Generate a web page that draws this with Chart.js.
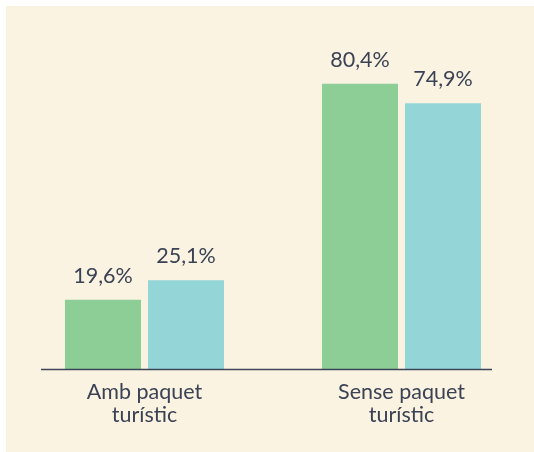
<!DOCTYPE html>
<html>
<head>
<meta charset="utf-8">
<script src="https://cdn.jsdelivr.net/npm/chart.js@4/dist/chart.umd.min.js"></script>
<style>
  html, body { margin: 0; padding: 0; background: #ffffff; }
  #wrap { position: absolute; left: 6px; top: 6px; width: 528px; height: 446px; background: #faf3e1; }
</style>
</head>
<body>
<div id="wrap"><canvas id="myChart" width="528" height="446"></canvas></div>
<script>
// data
var categories = [["Amb paquet", "turístic"], ["Sense paquet", "turístic"]];
var seriesGreen = [19.6, 80.4];
var seriesCyan = [25.1, 74.9];
var greenColor = "#8dcd96";
var cyanColor = "#94d5d8";
var textColor = "#3b4255";

function fmt(v) {
    return v.toFixed(1).replace('.', ',') + '%';
}

// labels over the bars + base line
var labelPlugin = {
    id: 'labelPlugin',
    afterDatasetsDraw: function(chart) {
        var ctx = chart.ctx;
        ctx.save();
        ctx.fillStyle = textColor;
        ctx.font = '21.5px Lato';
        ctx.textAlign = 'center';
        ctx.textBaseline = 'alphabetic';
        chart.data.datasets.forEach(function(ds, i) {
            chart.getDatasetMeta(i).data.forEach(function(bar, j) {
                ctx.fillText(fmt(ds.data[j]), bar.x, bar.y - 17);
            });
        });
        // base line
        var y0 = chart.scales.y.getPixelForValue(0);
        ctx.strokeStyle = '#3d4658';
        ctx.lineWidth = 1.5;
        ctx.beginPath();
        ctx.moveTo(35, y0);
        ctx.lineTo(486, y0);
        ctx.stroke();
        ctx.restore();
    }
};

var canvas = document.getElementById('myChart').getContext('2d');
var myChart = new Chart(canvas, {
    type: 'bar',
    data: {
        labels: categories,
        datasets: [{
            label: 'A',
            data: seriesGreen,
            backgroundColor: greenColor
        }, {
            label: 'B',
            data: seriesCyan,
            backgroundColor: cyanColor
        }]
    },
    options: {
        responsive: false,
        animation: false,
        layout: { padding: { left: 10, right: 4, top: 8, bottom: 0 } },
        plugins: {
            legend: { display: false },
            tooltip: { enabled: false }
        },
        datasets: {
            bar: { categoryPercentage: 0.646, barPercentage: 0.916 }
        },
        scales: {
            x: {
                grid: { display: false, drawTicks: false },
                border: { display: false },
                ticks: {
                    color: textColor,
                    font: { family: 'Lato', size: 21.5, lineHeight: 1.08 },
                    padding: 11,
                    maxRotation: 0
                },
                afterFit: function(scale) { scale.height = 82.5; }
            },
            y: {
                display: false,
                min: 0,
                max: 100
            }
        }
    },
    plugins: [labelPlugin]
});
</script>
</body>
</html>
